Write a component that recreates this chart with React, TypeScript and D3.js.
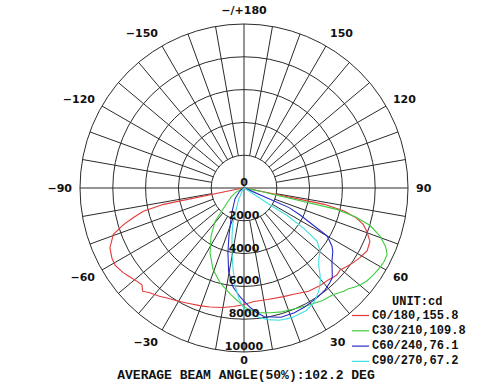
import React from 'react';
import * as d3 from 'd3';

// ---------- data ----------
const RING_VALUES = [0, 2000, 4000, 6000, 8000, 10000];
const RING_LABELS = ['0', '2000', '4000', '6000', '8000', '10000'];
const ANGLE_TICKS = [-150, -120, -90, -60, -30, 0, 30, 60, 90, 120, 150, 180];
const ANGLE_LABELS = ['−150', '−120', '−90', '−60', '−30', '0', '30', '60', '90', '120', '150', '−/+180'];

const SERIES_NAMES = ['C0/180,155.8', 'C30/210,109.8', 'C60/240,76.1', 'C90/270,67.2'];
const SERIES_COLORS = ['#e23a3a', '#3fcc3f', '#2a2ac8', '#40e0e0'];

// [angle deg (0 = down, + = right), intensity cd]
const C0_180: [number, number][] = [
  [-90, 0], [-85, 150], [-80, 600], [-78.5, 5000], [-77, 6300], [-75, 7000], [-73, 7700],
  [-70.5, 8450], [-66, 8950], [-62, 9120], [-59, 9160], [-55, 9000], [-52, 8820],
  [-48.5, 8640], [-46.5, 8580], [-44.5, 8820], [-42, 8600], [-38, 8380], [-35, 8190],
  [-30, 7980], [-26, 7820], [-20, 7650], [-16, 7550], [-10, 7400], [-5, 7250], [0, 7100],
  [5, 6950], [12, 6950], [20, 7050], [25, 7150], [32, 7420], [38, 7550], [42.5, 7600],
  [45, 7700], [47, 7760], [49.5, 7700], [52, 7850], [55.5, 8060], [59, 8250], [63, 8430],
  [67, 8340], [70.5, 7950], [73, 7600], [75, 7100], [77, 6300], [78.5, 5000], [80, 600],
  [85, 150], [90, 0],
];
const C30_210: [number, number][] = [
  [-90, 0], [-70, 150], [-62, 600], [-55, 950], [-48.5, 1400], [-41, 2680], [-34.5, 3550],
  [-27.5, 4480], [-21, 5290], [-14, 5980], [-7, 6550], [0, 7250], [6, 7650], [12, 7780],
  [17, 7900], [21, 7950], [28, 8130], [35, 8370], [40, 8470], [42.5, 8650], [44, 8760],
  [46, 8850], [48, 9050], [50.5, 9250], [53, 9400], [56, 9500], [59, 9580], [62, 9650],
  [65, 9630], [67.5, 9350], [70.5, 8800], [73.5, 8000], [75.5, 7000], [77, 5800],
  [78.5, 1200], [80, 300], [90, 0],
];
const C60_240: [number, number][] = [
  [-90, 0], [-60, 150], [-50, 400], [-40, 850], [-26, 1700], [-17.5, 3050], [-14, 4050],
  [-10.5, 5150], [-6.5, 6050], [-2, 6650], [0, 6900], [3, 7300], [6, 7650], [9, 7950],
  [16, 8200], [22, 8200], [27, 8150], [34, 8030], [38.5, 7940], [42, 7800], [44.5, 7680],
  [47, 7350], [50, 7000], [54.5, 6650], [56.5, 6430], [58.5, 6100], [60, 5850], [61.8, 4770],
  [64.3, 3800], [66.5, 3000], [70, 200], [90, 0],
];
const C90_270: [number, number][] = [
  [-90, 0], [-40, 100], [-25, 800], [-21, 1200], [-17.5, 2250], [-14, 3020], [-10.5, 4030],
  [-7.7, 4980], [-5.2, 6000], [-2.5, 6800], [0, 7350], [4, 7800], [10, 8150], [15, 8350],
  [20, 8430], [27, 8380], [31, 8200], [34, 7950], [37, 7650], [40, 7250], [42, 6900],
  [44, 6550], [47, 6250], [50.5, 6000], [54, 5500], [56, 4400], [57.5, 3100], [57, 1900],
  [58, 800], [90, 0],
];
const SERIES = [C0_180, C30_210, C60_240, C90_270];

const UNIT_LABEL = 'UNIT:cd';
const FOOTER = 'AVERAGE BEAM ANGLE(50%):102.2 DEG';

// ---------- layout ----------
const W = 504;
const H = 386;
const CX = 244;
const CY = 188;
const RMAX = 164;

const rScale = d3.scaleLinear().domain([0, 10000]).range([0, RMAX]);
const toRad = (deg: number) => (deg * Math.PI) / 180;
const px = (deg: number, r: number) => CX + r * Math.sin(toRad(deg));
const py = (deg: number, r: number) => CY + r * Math.cos(toRad(deg));

const lineGen = d3
  .lineRadial<[number, number]>()
  .angle((d) => Math.PI - toRad(d[0]))
  .radius((d) => rScale(d[1]));

const GRID = '#2b2b2b';
const SANS = '"DejaVu Sans", Verdana, sans-serif';
const MONO = '"Liberation Mono", "Courier New", monospace';

export default function App() {
  const spokes = d3.range(-180, 180, 10);
  return (
    <svg
      width={W}
      height={H}
      style={{ position: 'absolute', left: 0, top: 0, background: '#fff' }}
    >
      <rect width={W} height={H} fill="#fff" />
      {/* rings */}
      {RING_VALUES.slice(1).map((v) => (
        <circle key={v} cx={CX} cy={CY} r={rScale(v)} fill="none" stroke={GRID} strokeWidth={1} />
      ))}
      {/* spokes */}
      {spokes.map((a) => {
        const full = a % 90 === 0;
        const r0 = full ? 0 : rScale(2000);
        const r1 = rScale(10000);
        return (
          <line
            key={a}
            x1={px(a, r0)}
            y1={py(a, r0)}
            x2={px(a, r1)}
            y2={py(a, r1)}
            stroke={GRID}
            strokeWidth={1}
          />
        );
      })}
      {/* curves */}
      <g transform={`translate(${CX},${CY})`}>
        {SERIES.map((s, i) => (
          <path key={i} d={lineGen(s) || ''} fill="none" stroke={SERIES_COLORS[i]} strokeWidth={1.1} />
        ))}
      </g>
      {/* ring labels */}
      {RING_VALUES.map((v, i) => (
        <text
          key={v}
          x={CX}
          y={CY + rScale(v) - 2}
          textAnchor="middle"
          fontFamily={SANS}
          fontWeight="bold"
          fontSize={11}
          fill="#111"
        >
          {RING_LABELS[i]}
        </text>
      ))}
      {/* angle labels */}
      {ANGLE_TICKS.map((a, i) => {
        const vertical = a === 0 || a === 180;
        const anchor = vertical ? 'middle' : a > 0 ? 'start' : 'end';
        const x = vertical ? CX : px(a, 172);
        const y = a === 0 ? CY + 172 : CY + 178 * Math.cos(toRad(a));
        return (
          <text
            key={a}
            x={x}
            y={y}
            textAnchor={anchor}
            dominantBaseline="central"
            fontFamily={SANS}
            fontWeight="bold"
            fontSize={11}
            fill="#111"
          >
            {ANGLE_LABELS[i]}
          </text>
        );
      })}
      {/* legend */}
      <text x={392} y={302} dominantBaseline="central" fontFamily={MONO} fontWeight="bold" fontSize={12} fill="#111">
        {UNIT_LABEL}
      </text>
      {SERIES_NAMES.map((n, i) => {
        const y = 315.5 + i * 15.3;
        return (
          <g key={n}>
            <line x1={352} x2={369} y1={y} y2={y} stroke={SERIES_COLORS[i]} strokeWidth={1.2} />
            <text x={372} y={y} dominantBaseline="central" fontFamily={MONO} fontWeight="bold" fontSize={12} fill="#111">
              {n}
            </text>
          </g>
        );
      })}
      <text
        x={246}
        y={375}
        textAnchor="middle"
        dominantBaseline="central"
        fontFamily={MONO}
        fontWeight="bold"
        fontSize={13}
        fill="#111"
      >
        {FOOTER}
      </text>
    </svg>
  );
}
